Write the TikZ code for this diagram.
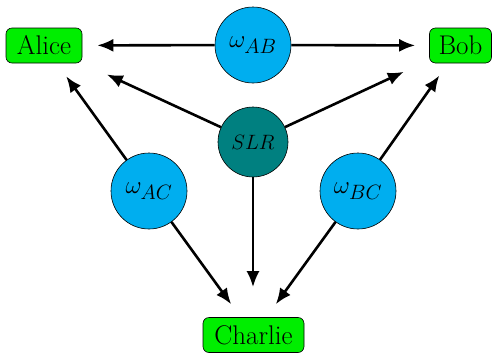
\documentclass[tikz,border=0pt]{standalone}
\usetikzlibrary{arrows.meta}
\definecolor{boxgreen}{RGB}{0,238,0}
\definecolor{circblue}{RGB}{0,174,239}
\definecolor{circteal}{RGB}{0,128,128}
\begin{document}
\begin{tikzpicture}[x=1pt,y=-1pt,
  party/.style={draw=black,line width=0.6pt,fill=boxgreen,rounded corners=6pt,
    inner xsep=0pt,inner ysep=0pt,minimum height=35pt,
    font=\fontsize{27}{32}\selectfont},
  source/.style={circle,draw=black,line width=0.6pt,fill=circblue,minimum size=76pt,inner sep=0pt,
    font=\fontsize{28}{33}\selectfont},
  slr/.style={circle,draw=black,line width=0.6pt,fill=circteal,minimum size=70pt,inner sep=0pt,
    font=\fontsize{20}{24}\selectfont},
  conn/.style={line width=2.6pt,-{Latex[length=16pt,width=13pt]}}]
\useasboundingbox (0,0) rectangle (493,354);
\node[party,minimum width=76pt] (Alice) at (44,45.5) {Alice};
\node[party,minimum width=62pt] (Bob) at (460.5,45.5) {Bob};
\node[party,minimum width=101pt] (Charlie) at (253.5,335) {Charlie};
\node[source] (wAB) at (253,45) {$\omega_{AB}$};
\node[slr] (SLR) at (253,142) {$SLR$};
\node[source] (wAC) at (149,191) {$\omega_{AC}$};
\node[source] (wBC) at (358,191) {$\omega_{BC}$};
\draw[conn,shorten >=15pt] (wAB) -- (Alice);
\draw[conn,shorten >=14pt] (wAB) -- (Bob);
\draw[conn,shorten >=27pt] (SLR) -- (Alice);
\draw[conn,shorten >=28pt] (SLR) -- (Bob);
\draw[conn,shorten >=30pt] (SLR) -- (SLR|-Charlie.north);
\draw[conn,shorten >=16pt] (wAC) -- (Alice);
\draw[conn,shorten >=15pt] (wBC) -- (Bob);
\draw[conn,shorten >=16pt] (wAC) -- (Charlie);
\draw[conn,shorten >=16pt] (wBC) -- (Charlie);
\end{tikzpicture}
\end{document}
